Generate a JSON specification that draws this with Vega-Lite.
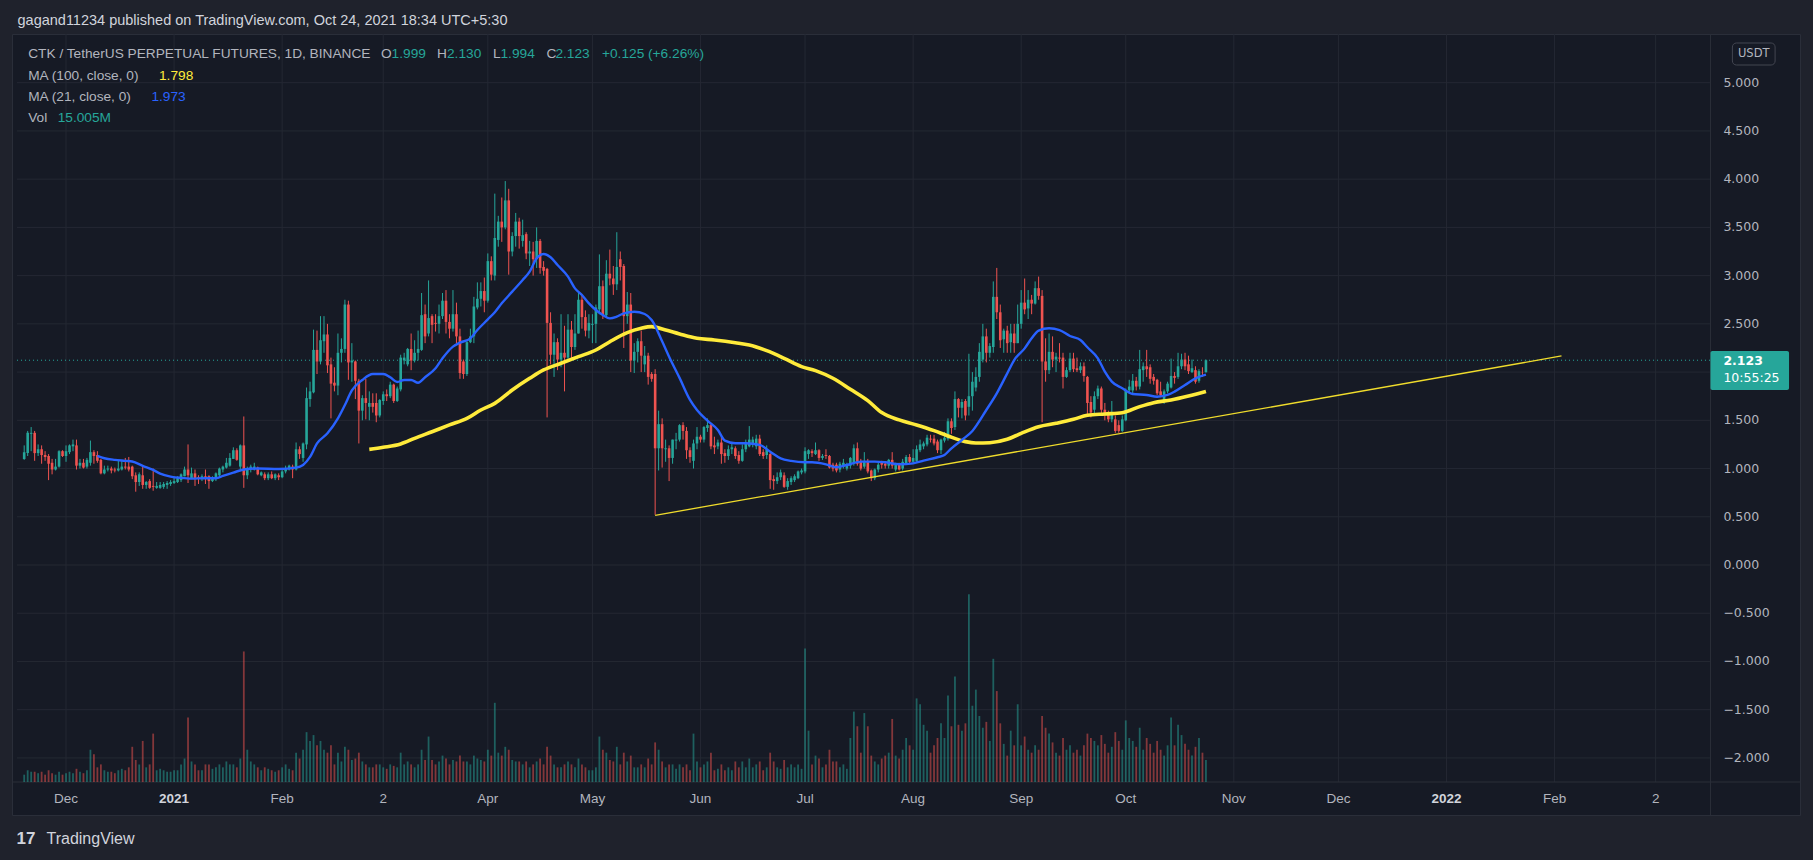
{
"$schema":"https://vega.github.io/schema/vega-lite/v6.json",
"width":1788,"height":781,
"autosize":{"type":"none"},
"padding":{"left":12,"top":34,"right":13,"bottom":45},
"background":"#1f222c",
"config":{"view":{"fill":"#161a25","stroke":"#2a2e39","strokeWidth":1}},
"data":{"values":[{}]},
"datasets":{
"candles":[
{"d":"2020-11-19","o":1.10,"h":1.24,"l":1.09,"c":1.17,"v":5},
{"d":"2020-11-20","o":1.16,"h":1.39,"l":1.13,"c":1.37,"v":8},
{"d":"2020-11-21","o":1.36,"h":1.43,"l":1.18,"c":1.37,"v":7},
{"d":"2020-11-22","o":1.37,"h":1.39,"l":1.08,"c":1.16,"v":7},
{"d":"2020-11-23","o":1.16,"h":1.25,"l":1.13,"c":1.20,"v":6},
{"d":"2020-11-24","o":1.20,"h":1.24,"l":1.05,"c":1.14,"v":7},
{"d":"2020-11-25","o":1.14,"h":1.18,"l":1.08,"c":1.12,"v":5},
{"d":"2020-11-26","o":1.13,"h":1.15,"l":0.88,"c":1.05,"v":8},
{"d":"2020-11-27","o":1.06,"h":1.10,"l":0.94,"c":0.99,"v":6},
{"d":"2020-11-28","o":0.99,"h":1.10,"l":0.98,"c":1.02,"v":5},
{"d":"2020-11-29","o":1.02,"h":1.19,"l":1.01,"c":1.18,"v":7},
{"d":"2020-11-30","o":1.18,"h":1.19,"l":1.12,"c":1.13,"v":5},
{"d":"2020-12-01","o":1.13,"h":1.24,"l":1.07,"c":1.18,"v":6},
{"d":"2020-12-02","o":1.17,"h":1.25,"l":1.15,"c":1.24,"v":7},
{"d":"2020-12-03","o":1.23,"h":1.30,"l":1.18,"c":1.25,"v":6},
{"d":"2020-12-04","o":1.24,"h":1.30,"l":0.99,"c":1.03,"v":9},
{"d":"2020-12-05","o":1.03,"h":1.10,"l":1.00,"c":1.06,"v":7},
{"d":"2020-12-06","o":1.06,"h":1.10,"l":1.00,"c":1.01,"v":6},
{"d":"2020-12-07","o":1.02,"h":1.11,"l":1.00,"c":1.09,"v":8},
{"d":"2020-12-08","o":1.06,"h":1.29,"l":1.03,"c":1.17,"v":22},
{"d":"2020-12-09","o":1.17,"h":1.19,"l":1.05,"c":1.13,"v":19},
{"d":"2020-12-10","o":1.14,"h":1.18,"l":1.06,"c":1.08,"v":10},
{"d":"2020-12-11","o":1.09,"h":1.10,"l":0.94,"c":0.95,"v":12},
{"d":"2020-12-12","o":0.95,"h":1.03,"l":0.94,"c":0.99,"v":8},
{"d":"2020-12-13","o":0.99,"h":1.03,"l":0.97,"c":1.00,"v":7},
{"d":"2020-12-14","o":1.00,"h":1.02,"l":0.95,"c":0.98,"v":7},
{"d":"2020-12-15","o":0.99,"h":1.01,"l":0.96,"c":0.98,"v":6},
{"d":"2020-12-16","o":0.98,"h":1.08,"l":0.97,"c":1.00,"v":8},
{"d":"2020-12-17","o":0.99,"h":1.08,"l":0.98,"c":1.02,"v":9},
{"d":"2020-12-18","o":1.02,"h":1.11,"l":0.99,"c":1.01,"v":8},
{"d":"2020-12-19","o":1.02,"h":1.12,"l":0.97,"c":0.99,"v":10},
{"d":"2020-12-20","o":1.02,"h":1.03,"l":0.89,"c":0.92,"v":24},
{"d":"2020-12-21","o":0.93,"h":0.96,"l":0.76,"c":0.86,"v":15},
{"d":"2020-12-22","o":0.86,"h":0.96,"l":0.82,"c":0.94,"v":12},
{"d":"2020-12-23","o":0.93,"h":1.02,"l":0.79,"c":0.83,"v":28},
{"d":"2020-12-24","o":0.83,"h":0.87,"l":0.79,"c":0.86,"v":10},
{"d":"2020-12-25","o":0.87,"h":0.89,"l":0.79,"c":0.80,"v":12},
{"d":"2020-12-26","o":0.82,"h":1.00,"l":0.77,"c":0.81,"v":33},
{"d":"2020-12-27","o":0.80,"h":0.86,"l":0.79,"c":0.82,"v":8},
{"d":"2020-12-28","o":0.80,"h":0.86,"l":0.79,"c":0.83,"v":9},
{"d":"2020-12-29","o":0.81,"h":0.86,"l":0.79,"c":0.84,"v":8},
{"d":"2020-12-30","o":0.83,"h":0.87,"l":0.79,"c":0.85,"v":7},
{"d":"2020-12-31","o":0.84,"h":0.88,"l":0.82,"c":0.86,"v":7},
{"d":"2021-01-01","o":0.85,"h":0.92,"l":0.84,"c":0.87,"v":8},
{"d":"2021-01-02","o":0.86,"h":0.92,"l":0.85,"c":0.90,"v":8},
{"d":"2021-01-03","o":0.88,"h":0.95,"l":0.86,"c":0.94,"v":12},
{"d":"2021-01-04","o":0.92,"h":1.02,"l":0.92,"c":0.99,"v":16},
{"d":"2021-01-05","o":0.99,"h":1.25,"l":0.85,"c":0.93,"v":44},
{"d":"2021-01-06","o":0.90,"h":1.01,"l":0.89,"c":0.95,"v":14},
{"d":"2021-01-07","o":0.95,"h":0.99,"l":0.82,"c":0.90,"v":12},
{"d":"2021-01-08","o":0.91,"h":0.93,"l":0.84,"c":0.90,"v":8},
{"d":"2021-01-09","o":0.90,"h":0.94,"l":0.87,"c":0.92,"v":8},
{"d":"2021-01-10","o":0.92,"h":0.99,"l":0.84,"c":0.90,"v":12},
{"d":"2021-01-11","o":0.92,"h":0.93,"l":0.79,"c":0.87,"v":12},
{"d":"2021-01-12","o":0.87,"h":0.92,"l":0.86,"c":0.90,"v":9},
{"d":"2021-01-13","o":0.89,"h":0.96,"l":0.87,"c":0.95,"v":10},
{"d":"2021-01-14","o":0.93,"h":1.01,"l":0.92,"c":1.00,"v":12},
{"d":"2021-01-15","o":0.99,"h":1.03,"l":0.96,"c":1.02,"v":10},
{"d":"2021-01-16","o":1.01,"h":1.11,"l":1.00,"c":1.06,"v":14},
{"d":"2021-01-17","o":1.03,"h":1.16,"l":1.02,"c":1.11,"v":12},
{"d":"2021-01-18","o":1.10,"h":1.22,"l":1.10,"c":1.19,"v":12},
{"d":"2021-01-19","o":1.19,"h":1.21,"l":1.08,"c":1.09,"v":10},
{"d":"2021-01-20","o":1.02,"h":1.25,"l":0.99,"c":1.24,"v":16},
{"d":"2021-01-21","o":1.24,"h":1.54,"l":0.80,"c":0.93,"v":89},
{"d":"2021-01-22","o":0.93,"h":1.02,"l":0.89,"c":0.99,"v":22},
{"d":"2021-01-23","o":0.99,"h":1.04,"l":0.96,"c":1.02,"v":14},
{"d":"2021-01-24","o":0.99,"h":1.06,"l":0.98,"c":1.02,"v":12},
{"d":"2021-01-25","o":1.01,"h":1.02,"l":0.93,"c":0.94,"v":10},
{"d":"2021-01-26","o":0.93,"h":0.97,"l":0.92,"c":0.96,"v":8},
{"d":"2021-01-27","o":0.94,"h":0.96,"l":0.88,"c":0.90,"v":10},
{"d":"2021-01-28","o":0.90,"h":0.96,"l":0.88,"c":0.94,"v":9},
{"d":"2021-01-29","o":0.94,"h":0.97,"l":0.89,"c":0.90,"v":8},
{"d":"2021-01-30","o":0.90,"h":0.95,"l":0.88,"c":0.94,"v":7},
{"d":"2021-01-31","o":0.93,"h":0.95,"l":0.88,"c":0.91,"v":8},
{"d":"2021-02-01","o":0.91,"h":0.99,"l":0.90,"c":0.97,"v":10},
{"d":"2021-02-02","o":0.97,"h":1.03,"l":0.95,"c":1.00,"v":12},
{"d":"2021-02-03","o":0.99,"h":1.04,"l":0.98,"c":1.03,"v":9},
{"d":"2021-02-04","o":1.02,"h":1.04,"l":0.90,"c":0.99,"v":8},
{"d":"2021-02-05","o":0.99,"h":1.27,"l":0.98,"c":1.20,"v":20},
{"d":"2021-02-06","o":1.20,"h":1.23,"l":1.10,"c":1.15,"v":16},
{"d":"2021-02-07","o":1.11,"h":1.27,"l":1.07,"c":1.26,"v":22},
{"d":"2021-02-08","o":1.25,"h":1.84,"l":1.20,"c":1.73,"v":34},
{"d":"2021-02-09","o":1.72,"h":1.90,"l":1.64,"c":1.80,"v":28},
{"d":"2021-02-10","o":1.79,"h":2.44,"l":1.78,"c":2.23,"v":32},
{"d":"2021-02-11","o":2.23,"h":2.43,"l":1.98,"c":2.11,"v":25},
{"d":"2021-02-12","o":2.11,"h":2.58,"l":2.08,"c":2.33,"v":28},
{"d":"2021-02-13","o":2.32,"h":2.58,"l":2.20,"c":2.39,"v":22},
{"d":"2021-02-14","o":2.39,"h":2.50,"l":1.99,"c":2.07,"v":20},
{"d":"2021-02-15","o":2.08,"h":2.15,"l":1.52,"c":1.88,"v":25},
{"d":"2021-02-16","o":1.89,"h":2.05,"l":1.80,"c":1.86,"v":12},
{"d":"2021-02-17","o":1.86,"h":2.40,"l":1.76,"c":2.20,"v":20},
{"d":"2021-02-18","o":2.20,"h":2.35,"l":2.10,"c":2.24,"v":14},
{"d":"2021-02-19","o":2.24,"h":2.75,"l":2.20,"c":2.70,"v":24},
{"d":"2021-02-20","o":2.70,"h":2.74,"l":1.92,"c":2.10,"v":22},
{"d":"2021-02-21","o":2.10,"h":2.30,"l":1.90,"c":2.12,"v":15},
{"d":"2021-02-22","o":2.11,"h":2.12,"l":1.72,"c":1.91,"v":16},
{"d":"2021-02-23","o":1.91,"h":1.93,"l":1.26,"c":1.60,"v":20},
{"d":"2021-02-24","o":1.60,"h":1.76,"l":1.50,"c":1.73,"v":14},
{"d":"2021-02-25","o":1.73,"h":1.93,"l":1.51,"c":1.68,"v":12},
{"d":"2021-02-26","o":1.64,"h":1.80,"l":1.50,"c":1.68,"v":10},
{"d":"2021-02-27","o":1.68,"h":1.78,"l":1.58,"c":1.64,"v":10},
{"d":"2021-02-28","o":1.68,"h":1.78,"l":1.48,"c":1.55,"v":12},
{"d":"2021-03-01","o":1.55,"h":1.72,"l":1.53,"c":1.71,"v":12},
{"d":"2021-03-02","o":1.70,"h":1.80,"l":1.66,"c":1.77,"v":10},
{"d":"2021-03-03","o":1.77,"h":1.82,"l":1.70,"c":1.75,"v":9},
{"d":"2021-03-04","o":1.75,"h":1.90,"l":1.73,"c":1.87,"v":12},
{"d":"2021-03-05","o":1.87,"h":1.88,"l":1.68,"c":1.70,"v":11},
{"d":"2021-03-06","o":1.70,"h":1.85,"l":1.69,"c":1.83,"v":10},
{"d":"2021-03-07","o":1.82,"h":2.18,"l":1.80,"c":2.15,"v":20},
{"d":"2021-03-08","o":2.12,"h":2.20,"l":2.08,"c":2.15,"v":12},
{"d":"2021-03-09","o":2.08,"h":2.25,"l":2.06,"c":2.24,"v":14},
{"d":"2021-03-10","o":2.24,"h":2.40,"l":2.02,"c":2.12,"v":12},
{"d":"2021-03-11","o":2.12,"h":2.33,"l":2.10,"c":2.20,"v":10},
{"d":"2021-03-12","o":2.20,"h":2.43,"l":2.12,"c":2.24,"v":12},
{"d":"2021-03-13","o":2.23,"h":2.82,"l":2.22,"c":2.59,"v":22},
{"d":"2021-03-14","o":2.60,"h":2.70,"l":2.30,"c":2.37,"v":15},
{"d":"2021-03-15","o":2.40,"h":2.95,"l":2.37,"c":2.56,"v":31},
{"d":"2021-03-16","o":2.58,"h":2.60,"l":2.30,"c":2.49,"v":15},
{"d":"2021-03-17","o":2.51,"h":2.60,"l":2.42,"c":2.50,"v":12},
{"d":"2021-03-18","o":2.50,"h":2.70,"l":2.40,"c":2.58,"v":14},
{"d":"2021-03-19","o":2.58,"h":2.82,"l":2.55,"c":2.74,"v":18},
{"d":"2021-03-20","o":2.74,"h":2.85,"l":2.40,"c":2.52,"v":16},
{"d":"2021-03-21","o":2.52,"h":2.60,"l":2.35,"c":2.45,"v":12},
{"d":"2021-03-22","o":2.45,"h":2.85,"l":2.42,"c":2.60,"v":15},
{"d":"2021-03-23","o":2.60,"h":2.72,"l":2.30,"c":2.37,"v":14},
{"d":"2021-03-24","o":2.37,"h":2.45,"l":1.93,"c":1.99,"v":18},
{"d":"2021-03-25","o":2.11,"h":2.13,"l":1.93,"c":1.98,"v":14},
{"d":"2021-03-26","o":1.98,"h":2.32,"l":1.96,"c":2.31,"v":14},
{"d":"2021-03-27","o":2.31,"h":2.45,"l":2.30,"c":2.37,"v":12},
{"d":"2021-03-28","o":2.37,"h":2.78,"l":2.30,"c":2.68,"v":18},
{"d":"2021-03-29","o":2.67,"h":2.93,"l":2.65,"c":2.76,"v":16},
{"d":"2021-03-30","o":2.76,"h":2.93,"l":2.68,"c":2.84,"v":15},
{"d":"2021-03-31","o":2.84,"h":2.98,"l":2.62,"c":2.74,"v":14},
{"d":"2021-04-01","o":2.74,"h":3.23,"l":2.72,"c":3.15,"v":22},
{"d":"2021-04-02","o":3.15,"h":3.20,"l":2.95,"c":3.01,"v":18},
{"d":"2021-04-03","o":3.00,"h":3.85,"l":2.95,"c":3.39,"v":54},
{"d":"2021-04-04","o":3.37,"h":3.62,"l":3.30,"c":3.56,"v":20},
{"d":"2021-04-05","o":3.56,"h":3.81,"l":3.35,"c":3.50,"v":18},
{"d":"2021-04-06","o":3.50,"h":3.98,"l":3.48,"c":3.78,"v":24},
{"d":"2021-04-07","o":3.78,"h":3.90,"l":3.01,"c":3.25,"v":22},
{"d":"2021-04-08","o":3.25,"h":3.45,"l":3.20,"c":3.41,"v":15},
{"d":"2021-04-09","o":3.41,"h":3.65,"l":3.30,"c":3.56,"v":14},
{"d":"2021-04-10","o":3.56,"h":3.60,"l":3.28,"c":3.41,"v":14},
{"d":"2021-04-11","o":3.36,"h":3.58,"l":3.30,"c":3.42,"v":12},
{"d":"2021-04-12","o":3.43,"h":3.45,"l":3.17,"c":3.23,"v":14},
{"d":"2021-04-13","o":3.23,"h":3.36,"l":3.10,"c":3.25,"v":10},
{"d":"2021-04-14","o":3.25,"h":3.35,"l":3.00,"c":3.17,"v":12},
{"d":"2021-04-15","o":3.17,"h":3.50,"l":3.08,"c":3.36,"v":14},
{"d":"2021-04-16","o":3.36,"h":3.38,"l":3.02,"c":3.08,"v":16},
{"d":"2021-04-17","o":3.09,"h":3.15,"l":3.00,"c":3.05,"v":12},
{"d":"2021-04-18","o":3.07,"h":3.08,"l":1.53,"c":2.51,"v":24},
{"d":"2021-04-19","o":2.51,"h":2.62,"l":2.08,"c":2.18,"v":18},
{"d":"2021-04-20","o":2.18,"h":2.40,"l":1.95,"c":2.31,"v":12},
{"d":"2021-04-21","o":2.31,"h":2.35,"l":2.02,"c":2.13,"v":10},
{"d":"2021-04-22","o":2.13,"h":2.60,"l":2.05,"c":2.20,"v":10},
{"d":"2021-04-23","o":2.20,"h":2.48,"l":1.80,"c":2.15,"v":12},
{"d":"2021-04-24","o":2.15,"h":2.60,"l":2.13,"c":2.44,"v":14},
{"d":"2021-04-25","o":2.44,"h":2.53,"l":2.13,"c":2.26,"v":12},
{"d":"2021-04-26","o":2.26,"h":2.60,"l":2.23,"c":2.40,"v":10},
{"d":"2021-04-27","o":2.40,"h":2.84,"l":2.40,"c":2.75,"v":16},
{"d":"2021-04-28","o":2.75,"h":2.80,"l":2.45,"c":2.57,"v":12},
{"d":"2021-04-29","o":2.57,"h":2.64,"l":2.37,"c":2.43,"v":10},
{"d":"2021-04-30","o":2.43,"h":2.60,"l":2.35,"c":2.51,"v":8},
{"d":"2021-05-01","o":2.49,"h":2.60,"l":2.30,"c":2.50,"v":8},
{"d":"2021-05-02","o":2.50,"h":2.70,"l":2.30,"c":2.67,"v":10},
{"d":"2021-05-03","o":2.65,"h":3.22,"l":2.60,"c":2.89,"v":31},
{"d":"2021-05-04","o":2.89,"h":2.95,"l":2.55,"c":2.59,"v":22},
{"d":"2021-05-05","o":2.59,"h":3.16,"l":2.58,"c":3.02,"v":20},
{"d":"2021-05-06","o":3.02,"h":3.27,"l":2.90,"c":2.97,"v":15},
{"d":"2021-05-07","o":2.97,"h":3.10,"l":2.80,"c":2.91,"v":14},
{"d":"2021-05-08","o":2.91,"h":3.45,"l":2.85,"c":3.09,"v":24},
{"d":"2021-05-09","o":3.17,"h":3.25,"l":2.95,"c":3.09,"v":12},
{"d":"2021-05-10","o":3.10,"h":3.12,"l":2.25,"c":2.58,"v":20},
{"d":"2021-05-11","o":2.58,"h":2.83,"l":2.50,"c":2.70,"v":14},
{"d":"2021-05-12","o":2.70,"h":2.82,"l":2.00,"c":2.12,"v":18},
{"d":"2021-05-13","o":2.12,"h":2.30,"l":1.99,"c":2.21,"v":10},
{"d":"2021-05-14","o":2.21,"h":2.35,"l":2.10,"c":2.32,"v":10},
{"d":"2021-05-15","o":2.32,"h":2.43,"l":2.00,"c":2.17,"v":12},
{"d":"2021-05-16","o":2.08,"h":2.27,"l":2.00,"c":2.17,"v":10},
{"d":"2021-05-17","o":2.17,"h":2.20,"l":1.87,"c":1.95,"v":16},
{"d":"2021-05-18","o":1.98,"h":2.00,"l":1.90,"c":1.93,"v":12},
{"d":"2021-05-19","o":1.98,"h":2.03,"l":0.52,"c":1.21,"v":27},
{"d":"2021-05-20","o":1.21,"h":1.60,"l":0.98,"c":1.46,"v":22},
{"d":"2021-05-21","o":1.46,"h":1.52,"l":1.01,"c":1.21,"v":14},
{"d":"2021-05-22","o":1.20,"h":1.30,"l":1.07,"c":1.21,"v":10},
{"d":"2021-05-23","o":1.21,"h":1.24,"l":0.87,"c":1.11,"v":12},
{"d":"2021-05-24","o":1.11,"h":1.30,"l":1.05,"c":1.30,"v":12},
{"d":"2021-05-25","o":1.29,"h":1.37,"l":1.20,"c":1.30,"v":9},
{"d":"2021-05-26","o":1.30,"h":1.46,"l":1.28,"c":1.45,"v":12},
{"d":"2021-05-27","o":1.45,"h":1.48,"l":1.30,"c":1.39,"v":10},
{"d":"2021-05-28","o":1.39,"h":1.43,"l":1.10,"c":1.19,"v":12},
{"d":"2021-05-29","o":1.19,"h":1.22,"l":1.06,"c":1.12,"v":8},
{"d":"2021-05-30","o":1.08,"h":1.30,"l":1.00,"c":1.26,"v":33},
{"d":"2021-05-31","o":1.26,"h":1.43,"l":1.20,"c":1.33,"v":14},
{"d":"2021-06-01","o":1.33,"h":1.35,"l":1.27,"c":1.30,"v":10},
{"d":"2021-06-02","o":1.30,"h":1.44,"l":1.27,"c":1.43,"v":12},
{"d":"2021-06-03","o":1.42,"h":1.52,"l":1.38,"c":1.45,"v":14},
{"d":"2021-06-04","o":1.45,"h":1.47,"l":1.20,"c":1.23,"v":20},
{"d":"2021-06-05","o":1.24,"h":1.33,"l":1.15,"c":1.22,"v":8},
{"d":"2021-06-06","o":1.23,"h":1.30,"l":1.20,"c":1.27,"v":9},
{"d":"2021-06-07","o":1.27,"h":1.33,"l":1.05,"c":1.15,"v":12},
{"d":"2021-06-08","o":1.16,"h":1.20,"l":1.06,"c":1.13,"v":8},
{"d":"2021-06-09","o":1.13,"h":1.24,"l":1.09,"c":1.20,"v":10},
{"d":"2021-06-10","o":1.20,"h":1.26,"l":1.15,"c":1.22,"v":8},
{"d":"2021-06-11","o":1.21,"h":1.23,"l":1.10,"c":1.13,"v":14},
{"d":"2021-06-12","o":1.14,"h":1.18,"l":1.05,"c":1.08,"v":10},
{"d":"2021-06-13","o":1.08,"h":1.25,"l":1.07,"c":1.20,"v":14},
{"d":"2021-06-14","o":1.20,"h":1.30,"l":1.17,"c":1.26,"v":10},
{"d":"2021-06-15","o":1.23,"h":1.44,"l":1.22,"c":1.30,"v":16},
{"d":"2021-06-16","o":1.25,"h":1.33,"l":1.22,"c":1.30,"v":10},
{"d":"2021-06-17","o":1.23,"h":1.35,"l":1.20,"c":1.31,"v":12},
{"d":"2021-06-18","o":1.31,"h":1.35,"l":1.13,"c":1.15,"v":14},
{"d":"2021-06-19","o":1.17,"h":1.20,"l":1.10,"c":1.13,"v":8},
{"d":"2021-06-20","o":1.14,"h":1.24,"l":1.10,"c":1.20,"v":10},
{"d":"2021-06-21","o":1.15,"h":1.16,"l":0.79,"c":0.88,"v":20},
{"d":"2021-06-22","o":0.89,"h":0.93,"l":0.78,"c":0.87,"v":14},
{"d":"2021-06-23","o":0.87,"h":0.96,"l":0.84,"c":0.91,"v":10},
{"d":"2021-06-24","o":0.91,"h":0.99,"l":0.88,"c":0.96,"v":9},
{"d":"2021-06-25","o":0.93,"h":0.96,"l":0.80,"c":0.81,"v":15},
{"d":"2021-06-26","o":0.81,"h":0.90,"l":0.78,"c":0.87,"v":10},
{"d":"2021-06-27","o":0.86,"h":0.92,"l":0.83,"c":0.90,"v":12},
{"d":"2021-06-28","o":0.88,"h":0.94,"l":0.86,"c":0.92,"v":10},
{"d":"2021-06-29","o":0.90,"h":0.98,"l":0.89,"c":0.97,"v":12},
{"d":"2021-06-30","o":0.96,"h":1.00,"l":0.94,"c":0.98,"v":9},
{"d":"2021-07-01","o":0.97,"h":1.22,"l":0.95,"c":1.18,"v":91},
{"d":"2021-07-02","o":1.15,"h":1.20,"l":1.10,"c":1.19,"v":35},
{"d":"2021-07-03","o":1.18,"h":1.20,"l":1.12,"c":1.16,"v":12},
{"d":"2021-07-04","o":1.15,"h":1.27,"l":1.14,"c":1.19,"v":18},
{"d":"2021-07-05","o":1.19,"h":1.20,"l":1.08,"c":1.11,"v":16},
{"d":"2021-07-06","o":1.11,"h":1.15,"l":1.09,"c":1.13,"v":10},
{"d":"2021-07-07","o":1.14,"h":1.20,"l":1.10,"c":1.13,"v":12},
{"d":"2021-07-08","o":1.13,"h":1.14,"l":1.00,"c":1.01,"v":22},
{"d":"2021-07-09","o":1.04,"h":1.06,"l":0.97,"c":1.00,"v":14},
{"d":"2021-07-10","o":1.04,"h":1.06,"l":0.96,"c":0.98,"v":14},
{"d":"2021-07-11","o":0.99,"h":1.07,"l":0.96,"c":1.05,"v":10},
{"d":"2021-07-12","o":1.02,"h":1.10,"l":1.00,"c":1.06,"v":12},
{"d":"2021-07-13","o":1.00,"h":1.06,"l":0.98,"c":1.03,"v":9},
{"d":"2021-07-14","o":1.03,"h":1.12,"l":1.00,"c":1.11,"v":30},
{"d":"2021-07-15","o":1.05,"h":1.25,"l":1.03,"c":1.21,"v":48},
{"d":"2021-07-16","o":1.21,"h":1.27,"l":1.03,"c":1.05,"v":38},
{"d":"2021-07-17","o":1.07,"h":1.10,"l":0.98,"c":1.00,"v":20},
{"d":"2021-07-18","o":1.02,"h":1.17,"l":1.00,"c":1.07,"v":47},
{"d":"2021-07-19","o":1.07,"h":1.10,"l":0.95,"c":0.97,"v":38},
{"d":"2021-07-20","o":0.98,"h":0.99,"l":0.87,"c":0.90,"v":18},
{"d":"2021-07-21","o":0.90,"h":1.00,"l":0.88,"c":0.99,"v":14},
{"d":"2021-07-22","o":0.99,"h":1.06,"l":0.96,"c":1.04,"v":12},
{"d":"2021-07-23","o":1.06,"h":1.08,"l":1.00,"c":1.04,"v":16},
{"d":"2021-07-24","o":1.05,"h":1.07,"l":1.00,"c":1.03,"v":18},
{"d":"2021-07-25","o":1.03,"h":1.10,"l":1.00,"c":1.09,"v":20},
{"d":"2021-07-26","o":1.09,"h":1.17,"l":1.00,"c":1.03,"v":43},
{"d":"2021-07-27","o":0.99,"h":1.06,"l":0.97,"c":1.05,"v":18},
{"d":"2021-07-28","o":1.04,"h":1.06,"l":0.98,"c":0.99,"v":16},
{"d":"2021-07-29","o":1.00,"h":1.10,"l":0.98,"c":1.07,"v":22},
{"d":"2021-07-30","o":1.05,"h":1.14,"l":1.04,"c":1.12,"v":30},
{"d":"2021-07-31","o":1.12,"h":1.15,"l":1.05,"c":1.07,"v":25},
{"d":"2021-08-01","o":1.07,"h":1.20,"l":1.05,"c":1.11,"v":22},
{"d":"2021-08-02","o":1.08,"h":1.24,"l":1.07,"c":1.20,"v":57},
{"d":"2021-08-03","o":1.19,"h":1.30,"l":1.17,"c":1.25,"v":53},
{"d":"2021-08-04","o":1.23,"h":1.28,"l":1.20,"c":1.26,"v":39},
{"d":"2021-08-05","o":1.25,"h":1.35,"l":1.23,"c":1.32,"v":35},
{"d":"2021-08-06","o":1.31,"h":1.35,"l":1.27,"c":1.30,"v":20},
{"d":"2021-08-07","o":1.31,"h":1.35,"l":1.24,"c":1.26,"v":25},
{"d":"2021-08-08","o":1.28,"h":1.30,"l":1.16,"c":1.19,"v":30},
{"d":"2021-08-09","o":1.19,"h":1.31,"l":1.15,"c":1.30,"v":40},
{"d":"2021-08-10","o":1.29,"h":1.38,"l":1.27,"c":1.32,"v":30},
{"d":"2021-08-11","o":1.31,"h":1.52,"l":1.29,"c":1.49,"v":59},
{"d":"2021-08-12","o":1.49,"h":1.52,"l":1.36,"c":1.42,"v":38},
{"d":"2021-08-13","o":1.43,"h":1.80,"l":1.40,"c":1.72,"v":72},
{"d":"2021-08-14","o":1.72,"h":1.73,"l":1.53,"c":1.63,"v":39},
{"d":"2021-08-15","o":1.63,"h":1.72,"l":1.52,"c":1.69,"v":35},
{"d":"2021-08-16","o":1.70,"h":1.72,"l":1.50,"c":1.55,"v":40},
{"d":"2021-08-17","o":1.64,"h":2.19,"l":1.55,"c":1.75,"v":128},
{"d":"2021-08-18","o":1.75,"h":2.00,"l":1.60,"c":1.90,"v":52},
{"d":"2021-08-19","o":1.84,"h":2.05,"l":1.80,"c":1.95,"v":63},
{"d":"2021-08-20","o":1.95,"h":2.30,"l":1.90,"c":2.21,"v":45},
{"d":"2021-08-21","o":2.13,"h":2.50,"l":2.10,"c":2.37,"v":37},
{"d":"2021-08-22","o":2.37,"h":2.45,"l":2.10,"c":2.20,"v":41},
{"d":"2021-08-23","o":2.20,"h":2.30,"l":2.15,"c":2.27,"v":28},
{"d":"2021-08-24","o":2.26,"h":2.94,"l":2.20,"c":2.78,"v":84},
{"d":"2021-08-25","o":2.78,"h":3.08,"l":2.55,"c":2.62,"v":62},
{"d":"2021-08-26","o":2.62,"h":2.70,"l":2.25,"c":2.33,"v":40},
{"d":"2021-08-27","o":2.34,"h":2.45,"l":2.20,"c":2.43,"v":26},
{"d":"2021-08-28","o":2.43,"h":2.48,"l":2.20,"c":2.30,"v":18},
{"d":"2021-08-29","o":2.31,"h":2.50,"l":2.20,"c":2.40,"v":35},
{"d":"2021-08-30","o":2.40,"h":2.50,"l":2.20,"c":2.30,"v":25},
{"d":"2021-08-31","o":2.30,"h":2.70,"l":2.30,"c":2.50,"v":53},
{"d":"2021-09-01","o":2.50,"h":2.85,"l":2.45,"c":2.72,"v":25},
{"d":"2021-09-02","o":2.72,"h":2.97,"l":2.60,"c":2.65,"v":31},
{"d":"2021-09-03","o":2.66,"h":2.85,"l":2.55,"c":2.75,"v":22},
{"d":"2021-09-04","o":2.75,"h":2.80,"l":2.60,"c":2.71,"v":20},
{"d":"2021-09-05","o":2.71,"h":2.94,"l":2.70,"c":2.87,"v":25},
{"d":"2021-09-06","o":2.87,"h":2.99,"l":2.75,"c":2.79,"v":22},
{"d":"2021-09-07","o":2.79,"h":2.85,"l":1.48,"c":2.11,"v":45},
{"d":"2021-09-08","o":2.11,"h":2.35,"l":1.90,"c":2.02,"v":37},
{"d":"2021-09-09","o":2.02,"h":2.40,"l":1.98,"c":2.21,"v":33},
{"d":"2021-09-10","o":2.21,"h":2.37,"l":2.05,"c":2.13,"v":27},
{"d":"2021-09-11","o":2.13,"h":2.20,"l":2.00,"c":2.16,"v":20},
{"d":"2021-09-12","o":2.15,"h":2.30,"l":2.10,"c":2.14,"v":18},
{"d":"2021-09-13","o":2.15,"h":2.20,"l":1.83,"c":1.95,"v":30},
{"d":"2021-09-14","o":1.95,"h":2.05,"l":1.94,"c":2.02,"v":22},
{"d":"2021-09-15","o":2.02,"h":2.20,"l":2.00,"c":2.14,"v":25},
{"d":"2021-09-16","o":2.14,"h":2.20,"l":2.00,"c":2.03,"v":20},
{"d":"2021-09-17","o":2.04,"h":2.15,"l":2.00,"c":2.02,"v":22},
{"d":"2021-09-18","o":2.02,"h":2.10,"l":1.99,"c":2.06,"v":18},
{"d":"2021-09-19","o":2.06,"h":2.10,"l":1.90,"c":1.96,"v":25},
{"d":"2021-09-20","o":1.95,"h":1.96,"l":1.56,"c":1.68,"v":33},
{"d":"2021-09-21","o":1.69,"h":1.75,"l":1.53,"c":1.58,"v":30},
{"d":"2021-09-22","o":1.61,"h":1.80,"l":1.55,"c":1.75,"v":28},
{"d":"2021-09-23","o":1.75,"h":1.86,"l":1.72,"c":1.83,"v":25},
{"d":"2021-09-24","o":1.83,"h":1.85,"l":1.55,"c":1.61,"v":32},
{"d":"2021-09-25","o":1.61,"h":1.68,"l":1.50,"c":1.55,"v":26},
{"d":"2021-09-26","o":1.57,"h":1.60,"l":1.48,"c":1.51,"v":20},
{"d":"2021-09-27","o":1.51,"h":1.70,"l":1.48,"c":1.57,"v":24},
{"d":"2021-09-28","o":1.51,"h":1.55,"l":1.37,"c":1.39,"v":34},
{"d":"2021-09-29","o":1.45,"h":1.50,"l":1.37,"c":1.39,"v":28},
{"d":"2021-09-30","o":1.39,"h":1.55,"l":1.38,"c":1.51,"v":22},
{"d":"2021-10-01","o":1.50,"h":1.83,"l":1.49,"c":1.81,"v":42},
{"d":"2021-10-02","o":1.81,"h":1.92,"l":1.78,"c":1.85,"v":30},
{"d":"2021-10-03","o":1.81,"h":1.98,"l":1.78,"c":1.91,"v":28},
{"d":"2021-10-04","o":1.91,"h":1.95,"l":1.81,"c":1.85,"v":24},
{"d":"2021-10-05","o":1.85,"h":2.23,"l":1.82,"c":2.03,"v":37},
{"d":"2021-10-06","o":2.02,"h":2.10,"l":1.90,"c":2.06,"v":22},
{"d":"2021-10-07","o":2.06,"h":2.23,"l":1.95,"c":2.03,"v":30},
{"d":"2021-10-08","o":2.05,"h":2.08,"l":1.88,"c":1.93,"v":26},
{"d":"2021-10-09","o":1.95,"h":1.98,"l":1.87,"c":1.91,"v":20},
{"d":"2021-10-10","o":1.92,"h":1.93,"l":1.76,"c":1.78,"v":28},
{"d":"2021-10-11","o":1.80,"h":1.90,"l":1.74,"c":1.76,"v":22},
{"d":"2021-10-12","o":1.71,"h":1.82,"l":1.67,"c":1.80,"v":18},
{"d":"2021-10-13","o":1.80,"h":1.90,"l":1.78,"c":1.88,"v":25},
{"d":"2021-10-14","o":1.84,"h":2.14,"l":1.83,"c":1.96,"v":44},
{"d":"2021-10-15","o":1.96,"h":2.00,"l":1.88,"c":1.94,"v":25},
{"d":"2021-10-16","o":1.95,"h":2.20,"l":1.93,"c":2.06,"v":39},
{"d":"2021-10-17","o":2.06,"h":2.19,"l":2.03,"c":2.13,"v":32},
{"d":"2021-10-18","o":2.13,"h":2.20,"l":2.02,"c":2.06,"v":26},
{"d":"2021-10-19","o":2.08,"h":2.17,"l":1.98,"c":2.01,"v":22},
{"d":"2021-10-20","o":2.00,"h":2.13,"l":1.99,"c":2.04,"v":18},
{"d":"2021-10-21","o":2.02,"h":2.06,"l":1.88,"c":1.90,"v":24},
{"d":"2021-10-22","o":1.91,"h":2.03,"l":1.89,"c":2.01,"v":30},
{"d":"2021-10-23","o":2.00,"h":2.05,"l":1.95,"c":1.998,"v":20},
{"d":"2021-10-24","o":1.999,"h":2.130,"l":1.994,"c":2.123,"v":15.005}
],
"ma21":[
{"d":"2020-12-10","v":1.131},{"d":"2020-12-12","v":1.107},{"d":"2020-12-15","v":1.09},{"d":"2020-12-18","v":1.08},{"d":"2020-12-20","v":1.073},{"d":"2020-12-23","v":1.028},{"d":"2020-12-26","v":0.986},{"d":"2020-12-28","v":0.948},{"d":"2020-12-31","v":0.917},{"d":"2021-01-03","v":0.903},{"d":"2021-01-06","v":0.896},{"d":"2021-01-10","v":0.90},{"d":"2021-01-13","v":0.90},{"d":"2021-01-15","v":0.924},{"d":"2021-01-18","v":0.958},{"d":"2021-01-21","v":0.99},{"d":"2021-01-25","v":1.0},{"d":"2021-01-31","v":0.995},{"d":"2021-02-05","v":1.009},{"d":"2021-02-07","v":1.037},{"d":"2021-02-09","v":1.12},{"d":"2021-02-11","v":1.26},{"d":"2021-02-14","v":1.365},{"d":"2021-02-17","v":1.52},{"d":"2021-02-19","v":1.659},{"d":"2021-02-21","v":1.81},{"d":"2021-02-24","v":1.918},{"d":"2021-02-27","v":1.98},{"d":"2021-03-02","v":1.98},{"d":"2021-03-04","v":1.946},{"d":"2021-03-06","v":1.897},{"d":"2021-03-08","v":1.918},{"d":"2021-03-10","v":1.918},{"d":"2021-03-12","v":1.89},{"d":"2021-03-14","v":1.946},{"d":"2021-03-17","v":2.039},{"d":"2021-03-19","v":2.143},{"d":"2021-03-22","v":2.264},{"d":"2021-03-24","v":2.305},{"d":"2021-03-27","v":2.35},{"d":"2021-03-29","v":2.436},{"d":"2021-04-01","v":2.547},{"d":"2021-04-03","v":2.62},{"d":"2021-04-05","v":2.713},{"d":"2021-04-08","v":2.834},{"d":"2021-04-11","v":2.955},{"d":"2021-04-13","v":3.041},{"d":"2021-04-15","v":3.179},{"d":"2021-04-17","v":3.224},{"d":"2021-04-19","v":3.19},{"d":"2021-04-21","v":3.11},{"d":"2021-04-24","v":2.99},{"d":"2021-04-26","v":2.868},{"d":"2021-04-28","v":2.799},{"d":"2021-04-30","v":2.713},{"d":"2021-05-02","v":2.644},{"d":"2021-05-04","v":2.592},{"d":"2021-05-06","v":2.557},{"d":"2021-05-08","v":2.575},{"d":"2021-05-10","v":2.609},{"d":"2021-05-13","v":2.626},{"d":"2021-05-16","v":2.602},{"d":"2021-05-18","v":2.54},{"d":"2021-05-21","v":2.32},{"d":"2021-05-23","v":2.16},{"d":"2021-05-26","v":1.94},{"d":"2021-05-29","v":1.711},{"d":"2021-05-31","v":1.607},{"d":"2021-06-03","v":1.497},{"d":"2021-06-06","v":1.40},{"d":"2021-06-08","v":1.289},{"d":"2021-06-11","v":1.262},{"d":"2021-06-14","v":1.262},{"d":"2021-06-18","v":1.245},{"d":"2021-06-21","v":1.175},{"d":"2021-06-24","v":1.106},{"d":"2021-06-27","v":1.079},{"d":"2021-07-01","v":1.065},{"d":"2021-07-03","v":1.065},{"d":"2021-07-07","v":1.044},{"d":"2021-07-10","v":1.013},{"d":"2021-07-13","v":1.037},{"d":"2021-07-17","v":1.072},{"d":"2021-07-21","v":1.072},{"d":"2021-07-24","v":1.065},{"d":"2021-07-28","v":1.044},{"d":"2021-08-01","v":1.054},{"d":"2021-08-04","v":1.082},{"d":"2021-08-08","v":1.117},{"d":"2021-08-10","v":1.141},{"d":"2021-08-12","v":1.21},{"d":"2021-08-15","v":1.296},{"d":"2021-08-18","v":1.39},{"d":"2021-08-22","v":1.607},{"d":"2021-08-25","v":1.78},{"d":"2021-08-28","v":1.987},{"d":"2021-08-30","v":2.125},{"d":"2021-09-02","v":2.246},{"d":"2021-09-04","v":2.35},{"d":"2021-09-06","v":2.43},{"d":"2021-09-09","v":2.454},{"d":"2021-09-12","v":2.436},{"d":"2021-09-15","v":2.374},{"d":"2021-09-18","v":2.333},{"d":"2021-09-20","v":2.257},{"d":"2021-09-23","v":2.143},{"d":"2021-09-25","v":2.004},{"d":"2021-09-27","v":1.901},{"d":"2021-09-30","v":1.832},{"d":"2021-10-03","v":1.773},{"d":"2021-10-07","v":1.763},{"d":"2021-10-10","v":1.745},{"d":"2021-10-13","v":1.763},{"d":"2021-10-15","v":1.797},{"d":"2021-10-18","v":1.866},{"d":"2021-10-21","v":1.935},{"d":"2021-10-24","v":1.973}
],
"ma100":[
{"d":"2021-02-26","v":1.199},{"d":"2021-03-02","v":1.22},{"d":"2021-03-07","v":1.255},{"d":"2021-03-11","v":1.313},{"d":"2021-03-16","v":1.382},{"d":"2021-03-21","v":1.452},{"d":"2021-03-26","v":1.52},{"d":"2021-03-30","v":1.607},{"d":"2021-04-03","v":1.676},{"d":"2021-04-08","v":1.814},{"d":"2021-04-13","v":1.935},{"d":"2021-04-17","v":2.022},{"d":"2021-04-22","v":2.091},{"d":"2021-04-27","v":2.16},{"d":"2021-05-02","v":2.229},{"d":"2021-05-06","v":2.315},{"d":"2021-05-11","v":2.409},{"d":"2021-05-15","v":2.454},{"d":"2021-05-18","v":2.471},{"d":"2021-05-22","v":2.436},{"d":"2021-05-26","v":2.395},{"d":"2021-05-31","v":2.35},{"d":"2021-06-05","v":2.333},{"d":"2021-06-11","v":2.305},{"d":"2021-06-15","v":2.281},{"d":"2021-06-20","v":2.222},{"d":"2021-06-25","v":2.143},{"d":"2021-06-30","v":2.057},{"d":"2021-07-04","v":2.015},{"d":"2021-07-09","v":1.936},{"d":"2021-07-14","v":1.822},{"d":"2021-07-19","v":1.704},{"d":"2021-07-23","v":1.58},{"d":"2021-07-28","v":1.504},{"d":"2021-08-02","v":1.452},{"d":"2021-08-07","v":1.393},{"d":"2021-08-11","v":1.338},{"d":"2021-08-16","v":1.279},{"d":"2021-08-19","v":1.265},{"d":"2021-08-23","v":1.268},{"d":"2021-08-28","v":1.303},{"d":"2021-09-01","v":1.365},{"d":"2021-09-06","v":1.434},{"d":"2021-09-11","v":1.469},{"d":"2021-09-16","v":1.51},{"d":"2021-09-20","v":1.552},{"d":"2021-09-25","v":1.566},{"d":"2021-09-30","v":1.579},{"d":"2021-10-05","v":1.642},{"d":"2021-10-09","v":1.683},{"d":"2021-10-14","v":1.711},{"d":"2021-10-19","v":1.752},{"d":"2021-10-24","v":1.80}
],
"ticks":[
{"t":"2020-12-01","label":"Dec"},{"t":"2021-01-01","label":"2021"},{"t":"2021-02-01","label":"Feb"},{"t":"2021-03-02","label":"2"},{"t":"2021-04-01","label":"Apr"},{"t":"2021-05-01","label":"May"},{"t":"2021-06-01","label":"Jun"},{"t":"2021-07-01","label":"Jul"},{"t":"2021-08-01","label":"Aug"},{"t":"2021-09-01","label":"Sep"},{"t":"2021-10-01","label":"Oct"},{"t":"2021-11-01","label":"Nov"},{"t":"2021-12-01","label":"Dec"},{"t":"2022-01-01","label":"2022"},{"t":"2022-02-01","label":"Feb"},{"t":"2022-03-02","label":"2"}
],
"grid":[
{"p":-2},{"p":-1.5},{"p":-1},{"p":-0.5},{"p":0},{"p":0.5},{"p":1},{"p":1.5},{"p":2},{"p":2.5},{"p":3},{"p":3.5},{"p":4},{"p":4.5},{"p":5}
]
},
"resolve":{"scale":{"y":"independent"}},
"layer":[
{"layer":[
 {"data":{"name":"grid"},"mark":{"type":"rule","color":"#242833","strokeWidth":1},
  "encoding":{"y":{"field":"p","type":"quantitative","scale":{"domain":[-2.5917,5.5049],"nice":false,"zero":false},"axis":null},
   "x":{"datum":1605565756800,"type":"temporal","axis":null},"x2":{"datum":1647538272000}}},
 {"data":{"name":"ticks"},"mark":{"type":"rule","color":"#242833","strokeWidth":1},
  "encoding":{"x":{"field":"t","type":"temporal","axis":null},"y":{"datum":5.5049,"axis":null},"y2":{"datum":-2.2496}}},
 {"mark":{"type":"rule","color":"#26a69a","strokeWidth":1,"strokeDash":[1,3]},
  "encoding":{"y":{"datum":2.123,"axis":null},"x":{"datum":1605565756800,"type":"temporal","axis":null},"x2":{"datum":1647538272000}}},
 {"mark":{"type":"rule","color":"#2a2e39","strokeWidth":1},"encoding":{"y":{"datum":-2.2496,"axis":null}}},
 {"mark":{"type":"rule","color":"#2a2e39","strokeWidth":1},"encoding":{"x":{"datum":1647538272000,"type":"temporal","axis":null}}}
]},
{"data":{"name":"candles"},"mark":{"type":"bar","size":1.8,"opacity":0.5},
 "encoding":{
  "x":{"field":"d","type":"temporal","scale":{"type":"utc","domain":[1605565756800,1649633472000]},"axis":null},
  "y":{"field":"v","type":"quantitative","scale":{"domain":[-22.5,510],"nice":false,"zero":false},"axis":null},
  "y2":{"datum":0},
  "color":{"condition":{"test":"datum.c >= datum.o","value":"#26a69a"},"value":"#ef5350"}}},
{"layer":[
 {"data":{"name":"candles"},"mark":{"type":"rule","strokeWidth":1},
  "encoding":{"x":{"field":"d","type":"temporal","scale":{"type":"utc","domain":[1605565756800,1649633472000]},"axis":null},
   "y":{"field":"l","type":"quantitative","scale":{"domain":[-2.5917,5.5049],"nice":false,"zero":false},"axis":null},
   "y2":{"field":"h"},
   "color":{"condition":{"test":"datum.c >= datum.o","value":"#26a69a"},"value":"#ef5350"}}},
 {"data":{"name":"candles"},"mark":{"type":"bar","size":2.6},
  "encoding":{"x":{"field":"d","type":"temporal","axis":null},"y":{"field":"o","type":"quantitative","axis":null},"y2":{"field":"c"},
   "color":{"condition":{"test":"datum.c >= datum.o","value":"#26a69a"},"value":"#ef5350"}}},
 {"data":{"name":"ma100"},"mark":{"type":"line","color":"#ffeb3b","strokeWidth":3.6,"interpolate":"monotone"},
  "encoding":{"x":{"field":"d","type":"temporal","axis":null},"y":{"field":"v","type":"quantitative","axis":null}}},
 {"data":{"name":"ma21"},"mark":{"type":"line","color":"#2962ff","strokeWidth":2.4,"interpolate":"monotone"},
  "encoding":{"x":{"field":"d","type":"temporal","axis":null},"y":{"field":"v","type":"quantitative","axis":null}}},
 {"mark":{"type":"rule","color":"#f0dc2c","strokeWidth":1.3},
  "encoding":{"x":{"datum":1621382400000,"type":"temporal","axis":null},"y":{"datum":0.515,"axis":null},"x2":{"datum":1643846400000},"y2":{"datum":2.167}}},
 {"data":{"name":"grid"},"transform":[{"filter":"datum.p != 2"}],
  "mark":{"type":"text","align":"left","baseline":"middle","font":"DejaVu Sans","fontSize":12.5,"color":"#b2b5be"},
  "encoding":{"x":{"datum":1647858816000,"type":"temporal","axis":null},"y":{"field":"p","type":"quantitative","axis":null},
   "text":{"field":"p","type":"quantitative","format":".3f"}}},
 {"data":{"name":"ticks"},"transform":[{"filter":"datum.label != '2021' && datum.label != '2022'"}],
  "mark":{"type":"text","align":"center","baseline":"middle","font":"Liberation Sans","fontSize":13.5,"color":"#b2b5be"},
  "encoding":{"x":{"field":"t","type":"temporal","axis":null},"y":{"datum":-2.4259,"axis":null},"text":{"field":"label"}}},
 {"data":{"name":"ticks"},"transform":[{"filter":"datum.label == '2021' || datum.label == '2022'"}],
  "mark":{"type":"text","align":"center","baseline":"middle","font":"Liberation Sans","fontSize":13.5,"fontWeight":"bold","color":"#d1d4dc"},
  "encoding":{"x":{"field":"t","type":"temporal","axis":null},"y":{"datum":-2.4259,"axis":null},"text":{"field":"label"}}},
 {"mark":{"type":"rect","color":"#26a69a","cornerRadius":2},
  "encoding":{"x":{"datum":1647538272000,"type":"temporal","axis":null},"x2":{"datum":1649485728000},"y":{"datum":2.2186,"axis":null},"y2":{"datum":1.8142}}},
 {"mark":{"type":"text","text":"2.123","align":"left","baseline":"middle","font":"DejaVu Sans","fontSize":12.5,"fontWeight":"bold","color":"#ffffff"},
  "encoding":{"x":{"datum":1647858816000,"type":"temporal","axis":null},"y":{"datum":2.1148,"axis":null}}},
 {"mark":{"type":"text","text":"10:55:25","align":"left","baseline":"middle","font":"DejaVu Sans","fontSize":12.5,"color":"#ffffff"},
  "encoding":{"x":{"datum":1647858816000,"type":"temporal","axis":null},"y":{"datum":1.9335,"axis":null}}},
 {"mark":{"type":"rect","fill":"#161a25","stroke":"#434651","strokeWidth":1,"cornerRadius":4},
  "encoding":{"x":{"datum":1648081728000,"type":"temporal","axis":null},"x2":{"datum":1649140128000},"y":{"datum":5.4116,"axis":null},"y2":{"datum":5.1835}}},
 {"mark":{"type":"text","text":"USDT","align":"center","baseline":"middle","font":"DejaVu Sans","fontSize":11.5,"color":"#b2b5be"},
  "encoding":{"x":{"datum":1648610496000,"type":"temporal","axis":null},"y":{"datum":5.2975,"axis":null}}},
 {"mark":{"type":"text","text":"gagand11234 published on TradingView.com, Oct 24, 2021 18:34 UTC+5:30","align":"left","baseline":"middle","dx":0.5,"font":"Liberation Sans","fontSize":14.5,"color":"#d1d4dc"},
  "encoding":{"x":{"datum":1605565756800,"type":"temporal","axis":null},"y":{"datum":5.6397,"axis":null}}},
 {"mark":{"type":"text","text":"CTK / TetherUS PERPETUAL FUTURES, 1D, BINANCE","align":"left","baseline":"middle","dx":11.2,"font":"Liberation Sans","fontSize":13.7,"color":"#b2b5be"},
  "encoding":{"x":{"datum":1605565756800,"type":"temporal","axis":null},"y":{"datum":5.2975,"axis":null}}},
 {"mark":{"type":"text","text":"O","align":"left","baseline":"middle","dx":364,"font":"Liberation Sans","fontSize":13.7,"color":"#b2b5be"},
  "encoding":{"x":{"datum":1605565756800,"type":"temporal","axis":null},"y":{"datum":5.2975,"axis":null}}},
 {"mark":{"type":"text","text":"1.999","align":"left","baseline":"middle","dx":374.6,"font":"Liberation Sans","fontSize":13.7,"color":"#26a69a"},
  "encoding":{"x":{"datum":1605565756800,"type":"temporal","axis":null},"y":{"datum":5.2975,"axis":null}}},
 {"mark":{"type":"text","text":"H","align":"left","baseline":"middle","dx":420,"font":"Liberation Sans","fontSize":13.7,"color":"#b2b5be"},
  "encoding":{"x":{"datum":1605565756800,"type":"temporal","axis":null},"y":{"datum":5.2975,"axis":null}}},
 {"mark":{"type":"text","text":"2.130","align":"left","baseline":"middle","dx":430,"font":"Liberation Sans","fontSize":13.7,"color":"#26a69a"},
  "encoding":{"x":{"datum":1605565756800,"type":"temporal","axis":null},"y":{"datum":5.2975,"axis":null}}},
 {"mark":{"type":"text","text":"L","align":"left","baseline":"middle","dx":476,"font":"Liberation Sans","fontSize":13.7,"color":"#b2b5be"},
  "encoding":{"x":{"datum":1605565756800,"type":"temporal","axis":null},"y":{"datum":5.2975,"axis":null}}},
 {"mark":{"type":"text","text":"1.994","align":"left","baseline":"middle","dx":483.5,"font":"Liberation Sans","fontSize":13.7,"color":"#26a69a"},
  "encoding":{"x":{"datum":1605565756800,"type":"temporal","axis":null},"y":{"datum":5.2975,"axis":null}}},
 {"mark":{"type":"text","text":"C","align":"left","baseline":"middle","dx":529.5,"font":"Liberation Sans","fontSize":13.7,"color":"#b2b5be"},
  "encoding":{"x":{"datum":1605565756800,"type":"temporal","axis":null},"y":{"datum":5.2975,"axis":null}}},
 {"mark":{"type":"text","text":"2.123","align":"left","baseline":"middle","dx":538.4,"font":"Liberation Sans","fontSize":13.7,"color":"#26a69a"},
  "encoding":{"x":{"datum":1605565756800,"type":"temporal","axis":null},"y":{"datum":5.2975,"axis":null}}},
 {"mark":{"type":"text","text":"+0.125 (+6.26%)","align":"left","baseline":"middle","dx":585,"font":"Liberation Sans","fontSize":13.7,"color":"#26a69a"},
  "encoding":{"x":{"datum":1605565756800,"type":"temporal","axis":null},"y":{"datum":5.2975,"axis":null}}},
 {"mark":{"type":"text","text":"MA (100, close, 0)","align":"left","baseline":"middle","dx":11.2,"font":"Liberation Sans","fontSize":13.7,"color":"#b2b5be"},
  "encoding":{"x":{"datum":1605565756800,"type":"temporal","axis":null},"y":{"datum":5.0726,"axis":null}}},
 {"mark":{"type":"text","text":"1.798","align":"left","baseline":"middle","dx":142,"font":"Liberation Sans","fontSize":13.7,"color":"#ffeb3b"},
  "encoding":{"x":{"datum":1605565756800,"type":"temporal","axis":null},"y":{"datum":5.0726,"axis":null}}},
 {"mark":{"type":"text","text":"MA (21, close, 0)","align":"left","baseline":"middle","dx":11.2,"font":"Liberation Sans","fontSize":13.7,"color":"#b2b5be"},
  "encoding":{"x":{"datum":1605565756800,"type":"temporal","axis":null},"y":{"datum":4.8549,"axis":null}}},
 {"mark":{"type":"text","text":"1.973","align":"left","baseline":"middle","dx":134.4,"font":"Liberation Sans","fontSize":13.7,"color":"#2962ff"},
  "encoding":{"x":{"datum":1605565756800,"type":"temporal","axis":null},"y":{"datum":4.8549,"axis":null}}},
 {"mark":{"type":"text","text":"Vol","align":"left","baseline":"middle","dx":11.2,"font":"Liberation Sans","fontSize":13.7,"color":"#b2b5be"},
  "encoding":{"x":{"datum":1605565756800,"type":"temporal","axis":null},"y":{"datum":4.6372,"axis":null}}},
 {"mark":{"type":"text","text":"15.005M","align":"left","baseline":"middle","dx":40.7,"font":"Liberation Sans","fontSize":13.7,"color":"#26a69a"},
  "encoding":{"x":{"datum":1605565756800,"type":"temporal","axis":null},"y":{"datum":4.6372,"axis":null}}},
 {"mark":{"type":"text","text":"17","align":"left","baseline":"middle","dx":-0.4,"font":"Liberation Sans","fontSize":17,"fontWeight":"bold","color":"#d1d4dc"},
  "encoding":{"x":{"datum":1605565756800,"type":"temporal","axis":null},"y":{"datum":-2.8406,"axis":null}}},
 {"mark":{"type":"text","text":"TradingView","align":"left","baseline":"middle","dx":29.5,"font":"Liberation Sans","fontSize":16,"color":"#d1d4dc"},
  "encoding":{"x":{"datum":1605565756800,"type":"temporal","axis":null},"y":{"datum":-2.8406,"axis":null}}}
]}
]
}
